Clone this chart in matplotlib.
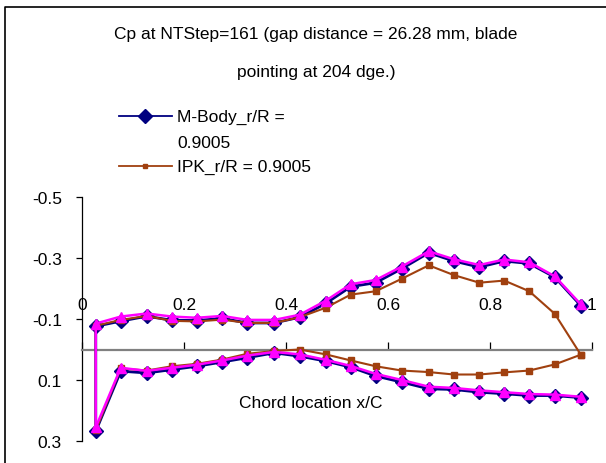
import matplotlib
matplotlib.use("Agg")
import matplotlib.pyplot as plt
from matplotlib.lines import Line2D

plt.rcParams['font.family'] = ['Liberation Sans', 'DejaVu Sans']

# chord stations (x/C) shared by all three curves
x_chord = [0.027, 0.076, 0.127, 0.176, 0.225, 0.275, 0.324, 0.377, 0.427, 0.478,
           0.527, 0.576, 0.627, 0.680, 0.729, 0.779, 0.828, 0.877, 0.927, 0.978]

# M-Body pressure coefficient, suction and pressure sides
mbody_upper = [-0.076, -0.093, -0.109, -0.096, -0.095, -0.102, -0.087, -0.087, -0.106, -0.151,
               -0.206, -0.219, -0.265, -0.317, -0.290, -0.270, -0.290, -0.282, -0.237, -0.144]
mbody_lower = [0.268, 0.071, 0.077, 0.066, 0.055, 0.041, 0.027, 0.011, 0.022, 0.038,
               0.058, 0.087, 0.107, 0.129, 0.131, 0.140, 0.145, 0.151, 0.151, 0.158]

# IPK pressure coefficient
ipk_upper = [-0.078, -0.097, -0.110, -0.094, -0.092, -0.098, -0.087, -0.087, -0.106, -0.137,
             -0.180, -0.191, -0.232, -0.276, -0.244, -0.219, -0.226, -0.191, -0.117, 0.017]
ipk_lower = [0.265, 0.062, 0.069, 0.055, 0.047, 0.033, 0.014, 0.005, 0.000, 0.016,
             0.036, 0.055, 0.069, 0.074, 0.082, 0.082, 0.075, 0.069, 0.049, 0.017]

# third run (magenta, not in legend)
run3_upper = [-0.085, -0.108, -0.118, -0.108, -0.104, -0.110, -0.097, -0.097, -0.114, -0.160,
              -0.214, -0.228, -0.272, -0.322, -0.296, -0.277, -0.295, -0.286, -0.240, -0.148]
run3_lower = [0.255, 0.060, 0.070, 0.060, 0.050, 0.036, 0.020, 0.008, 0.016, 0.034,
              0.054, 0.080, 0.100, 0.122, 0.126, 0.134, 0.140, 0.146, 0.148, 0.155]

title_lines = ["Cp at NTStep=161 (gap distance = 26.28 mm, blade", "pointing at 204 dge.)"]
label_mbody = "M-Body_r/R ="
label_mbody_2 = "0.9005"
label_ipk = "IPK_r/R = 0.9005"

x_ticks = [0, 0.2, 0.4, 0.6, 0.8, 1]
x_tick_labels = ["0", "0.2", "0.4", "0.6", "0.8", "1"]
y_ticks = [-0.5, -0.3, -0.1, 0.1, 0.3]
y_tick_labels = ["-0.5", "-0.3", "-0.1", "0.1", "0.3"]


def loop(upper, lower):
    # trailing edge -> leading edge along the upper side, then back along the lower side
    xs = x_chord[::-1] + x_chord
    ys = upper[::-1] + lower
    return xs, ys


W, H = 606, 464
fig = plt.figure(figsize=(W / 100, H / 100), dpi=100)
ax = fig.add_axes([82 / W, 1 - 442 / H, 510 / W, 244 / H])

navy = '#000080'
brown = '#A0400F'
magenta = '#FF00FF'

xs, ys = loop(mbody_upper, mbody_lower)
ax.plot(xs, ys, color=navy, lw=2.0, marker='D', ms=7.5, mfc=navy, mec=navy, zorder=3)
xs, ys = loop(ipk_upper, ipk_lower)
ax.plot(xs, ys, color=brown, lw=1.5, marker='s', ms=4.2, mfc=brown, mec=brown, zorder=4)
xs, ys = loop(run3_upper, run3_lower)
ax.plot(xs, ys, color=magenta, lw=1.8, marker='^', ms=6.5, mfc=magenta, mec=magenta, zorder=5)

ax.set_xlim(0, 1)
ax.set_ylim(0.3, -0.5)

# x axis sits on Cp = 0, labels above it
ax.xaxis.tick_top()
ax.spines['top'].set_position(('data', 0))
ax.spines['top'].set_color('#808080')
ax.spines['top'].set_linewidth(1.6)
ax.spines['bottom'].set_visible(False)
ax.spines['right'].set_visible(False)
ax.spines['left'].set_linewidth(0.9)
ax.set_xticks(x_ticks)
ax.set_xticklabels(x_tick_labels)
ax.tick_params(axis='x', direction='out', length=6, width=0.9, pad=21, labelsize=12.5)
ax.set_yticks(y_ticks)
ax.set_yticklabels(y_tick_labels)
ax.tick_params(axis='y', direction='out', length=4.5, width=0.9, pad=10, labelsize=12.5)
ax.patch.set_alpha(0)

ax.text(0.449, 0.174, "Chord location x/C", fontsize=12.5, ha='center', va='center')

# title
fig.text(316 / W, 1 - 35 / H, title_lines[0], fontsize=12.5, ha='center', va='center')
fig.text(316 / W, 1 - 73 / H, title_lines[1], fontsize=12.5, ha='center', va='center')

# legend
for yy, col, mk, ms, lab in [(117, navy, 'D', 7, label_mbody), (167, brown, 's', 3.5, label_ipk)]:
    fig.add_artist(Line2D([119 / W, 172 / W], [1 - yy / H, 1 - yy / H], color=col, lw=1.3,
                          transform=fig.transFigure))
    fig.add_artist(Line2D([145 / W], [1 - yy / H], color=col, marker=mk, ms=ms, mfc=col, mec=col,
                          transform=fig.transFigure))
    fig.text(177 / W, 1 - yy / H, lab, fontsize=12.5, ha='left', va='center')
fig.text(177 / W, 1 - 143 / H, label_mbody_2, fontsize=12.5, ha='left', va='center')

# chart border (left and top edges)
fig.add_artist(Line2D([4.5 / W, 4.5 / W, 1.0], [0.0, 1 - 7.5 / H, 1 - 7.5 / H], color='black',
                      lw=1.2, transform=fig.transFigure))

fig.savefig("out.png", dpi=100)
